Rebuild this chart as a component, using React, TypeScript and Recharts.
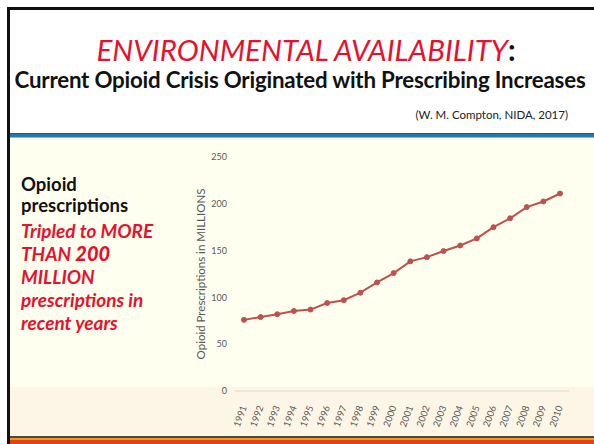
import { Label, Line, LineChart, XAxis, YAxis } from "recharts";

const years = [
  "1991", "1992", "1993", "1994", "1995", "1996", "1997", "1998", "1999", "2000",
  "2001", "2002", "2003", "2004", "2005", "2006", "2007", "2008", "2009", "2010",
];
const prescriptions = [
  76, 79, 82, 85.5, 87, 94, 97, 105, 116, 126,
  138.5, 143, 149.5, 155.5, 163, 175, 184.5, 196.5, 202.5, 211,
];
const yTicks = [0, 50, 100, 150, 200, 250];

const data = years.map((year, i) => ({ year, value: prescriptions[i] }));

const font = "Lato, 'Open Sans', sans-serif";
const red = "#E8112D";

function YearTick({ x, y, payload }: any) {
  return (
    <text
      x={x + 3}
      y={y + 8}
      transform={`rotate(-70, ${x + 3}, ${y + 8})`}
      textAnchor="end"
      fontSize={9.5}
      fontFamily={font}
      fill="#595959"
    >
      {payload.value}
    </text>
  );
}

export default function App() {
  return (
    <div
      style={{
        position: "absolute",
        left: 0,
        top: 0,
        width: 594,
        height: 444,
        overflow: "hidden",
        background: "#ffffff",
        fontFamily: font,
      }}
    >
      {/* slide backgrounds */}
      <div style={{ position: "absolute", left: 10, top: 138, width: 584, height: 249, background: "#FFFFF0" }} />
      <div style={{ position: "absolute", left: 10, top: 387, width: 584, height: 49, background: "#FDF5E6" }} />
      <div style={{ position: "absolute", left: 10, top: 133, width: 584, height: 4, background: "#2479A6", borderTop: "1px solid #1B5F86" }} />
      <div style={{ position: "absolute", left: 10, top: 137, width: 584, height: 1, background: "#A9B4BA" }} />
      <div style={{ position: "absolute", left: 10, top: 436, width: 584, height: 2, background: "#4A4A3A" }} />
      <div style={{ position: "absolute", left: 10, top: 438, width: 584, height: 2, background: "#EE9A1C" }} />
      <div style={{ position: "absolute", left: 10, top: 440, width: 584, height: 4, background: "#E2401E" }} />
      <div style={{ position: "absolute", left: 7, top: 7, width: 587, height: 3, background: "#111" }} />
      <div style={{ position: "absolute", left: 7, top: 7, width: 3, height: 437, background: "#111" }} />

      {/* titles */}
      <div
        style={{
          position: "absolute",
          left: 14,
          width: 584,
          top: 33,
          textAlign: "center",
          fontSize: 29.5,
          lineHeight: "34px",
          whiteSpace: "nowrap",
        }}
      >
        <span style={{ color: red, fontStyle: "italic" }}>ENVIRONMENTAL AVAILABILITY</span>
        <span style={{ color: "#111", fontWeight: 700 }}>:</span>
      </div>
      <div
        style={{
          position: "absolute",
          left: 8,
          width: 584,
          top: 67,
          textAlign: "center",
          fontSize: 22.3,
          fontWeight: 700,
          color: "#111",
          lineHeight: "26px",
          whiteSpace: "nowrap",
          letterSpacing: -0.2,
        }}
      >
        Current Opioid Crisis Originated with Prescribing Increases
      </div>
      <div
        style={{
          position: "absolute",
          right: 26,
          top: 108,
          fontSize: 11.5,
          color: "#222",
          lineHeight: "14px",
          whiteSpace: "nowrap",
        }}
      >
        (W. M. Compton, NIDA, 2017)
      </div>

      {/* side text */}
      <div
        style={{
          position: "absolute",
          left: 21,
          top: 174,
          fontSize: 18.5,
          fontWeight: 700,
          color: "#111",
          lineHeight: "21px",
        }}
      >
        Opioid
        <br />
        prescriptions
      </div>
      <div
        style={{
          position: "absolute",
          left: 21,
          top: 219,
          fontSize: 19,
          fontWeight: 700,
          fontStyle: "italic",
          color: red,
          lineHeight: "23px",
          whiteSpace: "nowrap",
        }}
      >
        Tripled to MORE
        <br />
        THAN <span style={{ fontWeight: 900, fontSize: 20 }}>200</span>
        <br />
        MILLION
        <br />
        prescriptions in
        <br />
        recent years
      </div>

      {/* chart */}
      <div style={{ position: "absolute", left: 180, top: 140 }}>
        <LineChart
          width={414}
          height={290}
          data={data}
          margin={{ top: 17, right: 25, bottom: 0, left: 0 }}
        >
          <XAxis
            dataKey="year"
            height={39}
            interval={0}
            padding={{ left: 9, right: 9 }}
            tickLine={false}
            axisLine={{ stroke: "#D9D9D9" }}
            tick={<YearTick />}
          />
          <YAxis
            width={55}
            domain={[0, 250]}
            ticks={yTicks}
            axisLine={false}
            tickLine={false}
            tick={{ fontSize: 9, fill: "#595959", fontFamily: font }}
          >
            <Label
              value="Opioid Prescriptions in MILLIONS"
              angle={-90}
              position="insideLeft"
              dx={16}
              style={{ textAnchor: "middle", fontSize: 11.5, fill: "#595959", fontFamily: font }}
            />
          </YAxis>
          <Line
            type="linear"
            dataKey="value"
            stroke="#C0504D"
            strokeWidth={2}
            dot={{ r: 2.5, fill: "#C0504D", stroke: "#C0504D", strokeWidth: 1 }}
            isAnimationActive={false}
          />
        </LineChart>
      </div>
    </div>
  );
}
